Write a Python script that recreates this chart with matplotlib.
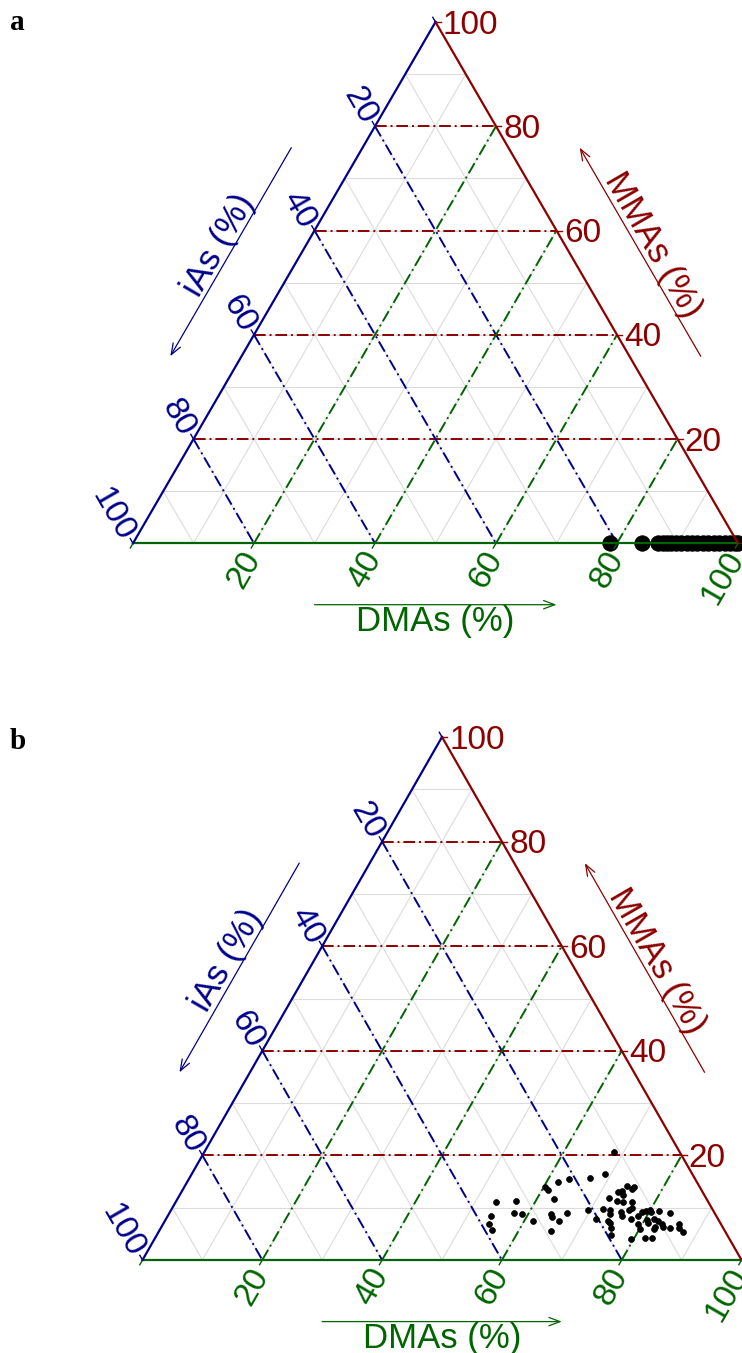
import numpy as np
import matplotlib
matplotlib.use('Agg')
import matplotlib.pyplot as plt

#
#--- ternary data (percent); iAs = 100 - DMAs - MMAs
#
ticks = [20, 40, 60, 80, 100]

a_dmas = [78.8, 84.1, 86.7, 87.6, 88.3, 89.0, 89.8, 90.6, 91.5, 92.4, 93.3,
          94.2, 95.1, 96.0, 96.9, 97.8, 98.7, 99.5, 100.0]
a_mmas = [0.0] * len(a_dmas)

b_dmas = [68.3, 69.0, 66.9, 63.5, 61.9, 60.2, 61.1, 62.9, 53.5, 56.7, 57.6, 59.0,
          61.4, 54.0, 54.5, 55.4, 63.9, 64.2, 66.4, 65.7, 65.4, 69.5, 71.7, 72.0,
          72.0, 73.6, 72.9, 73.4, 74.0, 73.8, 75.0, 75.1, 74.7, 76.2, 76.7, 76.4,
          75.4, 75.8, 73.7, 74.0, 74.5, 75.2, 75.8, 79.6, 81.8, 82.9, 78.5, 78.8,
          79.3, 80.0, 80.4, 81.6, 83.6, 80.3, 80.9, 81.5, 82.4, 82.5, 82.4, 83.2,
          83.7, 85.0, 86.1, 86.5, 87.6, 79.4, 80.1, 77.6, 73.3]
b_mmas = [20.7, 16.4, 15.6, 15.4, 14.9, 13.9, 13.3, 11.6, 11.1, 11.2, 8.9, 8.7,
          7.5, 8.4, 6.8, 5.8, 8.7, 8.2, 8.9, 7.5, 5.6, 9.6, 7.9, 9.8,
          11.8, 11.2, 13.0, 13.2, 12.5, 14.1, 13.5, 13.9, 11.1, 11.1, 10.0, 9.6,
          9.1, 8.4, 8.7, 7.4, 7.1, 6.1, 4.8, 4.0, 4.2, 4.2, 8.5, 9.1,
          9.4, 9.5, 9.1, 9.4, 9.0, 7.7, 7.1, 7.9, 6.4, 5.9, 7.4, 6.9,
          6.4, 6.1, 6.8, 6.1, 5.3, 6.8, 5.9, 7.9, 9.5]

S3 = np.sqrt(3) / 2
C_I = '#00008B'     # iAs   - left
C_M = '#8B0000'     # MMAs  - right
C_D = '#006400'     # DMAs  - bottom
FONT = 'Liberation Sans'
FS = 24
FT = 25
DASH = (0, (6, 2, 1, 2))

#-------------------------------------------------------------------------------------
#-- tern: convert (DMAs, MMAs) percent into cartesian coordinates                  --
#-------------------------------------------------------------------------------------

def tern(dmas, mmas):
    d = np.asarray(dmas, dtype=float) / 100.
    m = np.asarray(mmas, dtype=float) / 100.
    return d + m / 2., m * S3

#-------------------------------------------------------------------------------------
#-- draw_ternary: draw one ternary panel                                           --
#-------------------------------------------------------------------------------------

def draw_ternary(ax, dmas, mmas, msize):

    ax.set_xlim(0, 1)
    ax.set_ylim(0, S3)
    ax.axis('off')
#
#--- light grid at every 10%
#
    for v in range(10, 100, 10):
        x, y = tern([0, 100 - v], [v, v])
        ax.plot(x, y, color='#dcdcdc', lw=0.8, zorder=1, clip_on=False)
        x, y = tern([v, v], [0, 100 - v])
        ax.plot(x, y, color='#dcdcdc', lw=0.8, zorder=1, clip_on=False)
        x, y = tern([0, 100 - v], [100 - v, 0])
        ax.plot(x, y, color='#dcdcdc', lw=0.8, zorder=1, clip_on=False)
#
#--- coloured dash-dot lines at every 20%
#
    for v in ticks[:-1]:
        x, y = tern([0, 100 - v], [v, v])
        ax.plot(x, y, color=C_M, lw=1.4, ls=DASH, zorder=2, clip_on=False)
        x, y = tern([v, v], [0, 100 - v])
        ax.plot(x, y, color=C_D, lw=1.4, ls=DASH, zorder=2, clip_on=False)
        x, y = tern([0, 100 - v], [100 - v, 0])
        ax.plot(x, y, color=C_I, lw=1.4, ls=DASH, zorder=2, clip_on=False)
#
#--- data points
#
    x, y = tern(dmas, mmas)
    ax.scatter(x, y, s=msize, color='black', edgecolor='black', lw=0.5,
               zorder=3, clip_on=False)
#
#--- triangle sides
#
    ax.plot([0, 1], [0, 0], color=C_D, lw=1.6, zorder=4, clip_on=False)
    ax.plot([1, 0.5], [0, S3], color=C_M, lw=1.6, zorder=4, clip_on=False)
    ax.plot([0.5, 0], [S3, 0], color=C_I, lw=1.6, zorder=4, clip_on=False)
#
#--- ticks and tick labels
#
    tl = 0.009
    gap = 0.012
    sh = 0.005
    for v in [0] + ticks:
        lab = str(v)
#--- right side: MMAs
        x, y = tern(100 - v, v)
        ax.plot([x, x + tl], [y, y], color=C_M, lw=1.0, zorder=4, clip_on=False)
        if v > 0:
            ax.text(x + gap, y - sh, lab, color=C_M, fontsize=FS, family=FONT,
                    ha='left', va='center')
#--- bottom: DMAs
        x, y = tern(v, 0)
        ax.plot([x, x - 0.5 * tl], [y, y - S3 * tl], color=C_D, lw=1.0,
                zorder=4, clip_on=False)
        if v > 0:
            g2 = 0.016
            ax.text(x - 0.5 * g2 + 0.008 * S3, y - S3 * g2 - 0.004, lab,
                    color=C_D, fontsize=FS, family=FONT, rotation=60,
                    rotation_mode='anchor', ha='right', va='center')
#--- left side: iAs
        x, y = tern(0, 100 - v)
        ax.plot([x, x - 0.5 * tl], [y, y + S3 * tl], color=C_I, lw=1.0,
                zorder=4, clip_on=False)
        if v > 0:
            ax.text(x - 0.5 * gap - sh * S3, y + S3 * gap - 0.5 * sh, lab,
                    color=C_I, fontsize=FS, family=FONT, rotation=-60,
                    rotation_mode='anchor', ha='right', va='center')
#
#--- axis titles with direction arrows
#
    off = 0.102
    toff = 0.008
    aprops = dict(arrowstyle='->,head_length=0.8,head_width=0.3', lw=0.9,
                  shrinkA=0, shrinkB=0)
#--- bottom
    ax.annotate('', xy=(0.7, -off), xytext=(0.3, -off),
                arrowprops=dict(aprops, color=C_D), annotation_clip=False)
    ax.text(0.5, -off, 'DMAs (%)', color=C_D, fontsize=FT, family=FONT,
            ha='center', va='top')
#--- left
    n = np.array([-S3, 0.5])
    p0 = np.array([0.35, 0.7 * S3]) + off * n
    p1 = np.array([0.15, 0.3 * S3]) + off * n
    pc = np.array([0.25, 0.5 * S3]) + (off + toff) * n
    ax.annotate('', xy=p1, xytext=p0, arrowprops=dict(aprops, color=C_I),
                annotation_clip=False)
    ax.text(pc[0], pc[1], 'iAs (%)', color=C_I, fontsize=FT, family=FONT,
            rotation=60, rotation_mode='anchor', ha='center', va='baseline')
#--- right
    n = np.array([S3, 0.5])
    p0 = np.array([0.85, 0.3 * S3]) + off * n
    p1 = np.array([0.65, 0.7 * S3]) + off * n
    pc = np.array([0.75, 0.5 * S3]) + (off + toff) * n
    ax.annotate('', xy=p1, xytext=p0, arrowprops=dict(aprops, color=C_M),
                annotation_clip=False)
    ax.text(pc[0], pc[1], 'MMAs (%)', color=C_M, fontsize=FT, family=FONT,
            rotation=-60, rotation_mode='anchor', ha='center', va='baseline')

#--------------------------------------------------------------------------------------

fig = plt.figure(figsize=(7.42, 13.53), dpi=100)

ax1 = fig.add_axes([133 / 742., 1 - 543.3 / 1353., 605 / 742., 521.3 / 1353.])
draw_ternary(ax1, a_dmas, a_mmas, 125)

ax2 = fig.add_axes([142.5 / 742., 1 - 1260 / 1353., 599 / 742., 523 / 1353.])
draw_ternary(ax2, b_dmas, b_mmas, 18)

fig.text(10 / 742., 1 - 30 / 1353., 'a', fontsize=21, fontweight='bold',
         family='Liberation Serif', ha='left', va='baseline')
fig.text(10 / 742., 1 - 749 / 1353., 'b', fontsize=21, fontweight='bold',
         family='Liberation Serif', ha='left', va='baseline')

plt.savefig('out.png', dpi=100)
